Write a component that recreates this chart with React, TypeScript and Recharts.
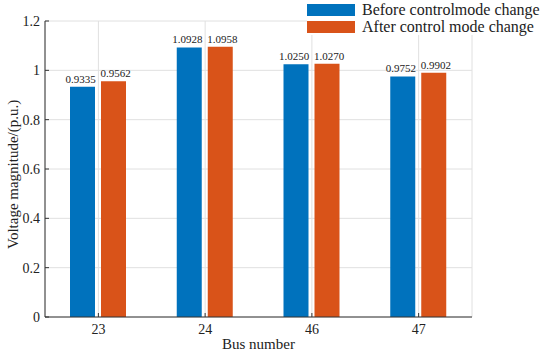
import React from 'react';
import { BarChart, Bar, XAxis, YAxis, CartesianGrid, Legend, LabelList } from 'recharts';

const categories = ['23', '24', '46', '47'];
const beforeValues = [0.9335, 1.0928, 1.025, 0.9752];
const afterValues = [0.9562, 1.0958, 1.027, 0.9902];
const yTicks = [0, 0.2, 0.4, 0.6, 0.8, 1, 1.2];

const data = categories.map((c, i) => ({ bus: c, before: beforeValues[i], after: afterValues[i] }));

const FONT = '"Liberation Serif", "DejaVu Serif", serif';
const BLUE = '#0072BD';
const ORANGE = '#D95319';

const LegendBox = () => (
  <div style={{ fontFamily: FONT, fontSize: 16, color: '#222', background: '#fff', lineHeight: '17px' }}>
    {[
      { c: BLUE, t: 'Before controlmode change' },
      { c: ORANGE, t: 'After control mode change' },
    ].map((e) => (
      <div key={e.t} style={{ display: 'flex', alignItems: 'center', height: 17 }}>
        <div style={{ width: 48, height: 12, background: e.c, marginRight: 7 }} />
        <span style={{ whiteSpace: 'nowrap', lineHeight: '17px' }}>{e.t}</span>
      </div>
    ))}
  </div>
);

const tickStyle = { fontFamily: FONT, fontSize: 14, fill: '#222' };
const labelStyle = { fontFamily: FONT, fontSize: 11, fill: '#222' };

export default function App() {
  return (
    <div style={{ position: 'absolute', left: 0, top: 0, background: '#fff', fontFamily: FONT }}>
      <BarChart
        width={550}
        height={353}
        data={data}
        margin={{ top: 21, right: 78, bottom: 0, left: 0 }}
        barGap={6}
        barSize={25}
      >
        <CartesianGrid stroke="#e0e0e0" strokeWidth={1} />
        <XAxis
          dataKey="bus"
          tick={tickStyle}
          tickSize={-4}
          tickMargin={11}
          axisLine={{ stroke: '#333' }}
          tickLine={{ stroke: '#333' }}
          height={36}
          label={{ value: 'Bus number', position: 'insideBottom', offset: 0, dy: -4, style: { fontFamily: FONT, fontSize: 15, fill: '#222' } }}
        />
        <YAxis
          domain={[0, 1.2]}
          ticks={yTicks}
          tick={tickStyle}
          tickSize={-4}
          tickMargin={9}
          axisLine={{ stroke: '#333' }}
          tickLine={{ stroke: '#333' }}
          width={45}
          label={{ value: 'Voltage magnitude/(p.u.)', angle: -90, position: 'insideLeft', dx: 8, dy: 80, style: { fontFamily: FONT, fontSize: 15, fill: '#222' } }}
        />
        <Legend
          layout="horizontal"
          verticalAlign="middle"
          align="center"
          content={<LegendBox />}
          wrapperStyle={{ position: 'absolute', top: 1, left: 307, width: 245 }}
        />
        <Bar dataKey="before" fill={BLUE} isAnimationActive={false}>
          <LabelList dataKey="before" position="top" offset={4} dx={-2} formatter={(v: number) => v.toFixed(4)} style={labelStyle} />
        </Bar>
        <Bar dataKey="after" fill={ORANGE} isAnimationActive={false}>
          <LabelList dataKey="after" position="top" offset={4} dx={2} formatter={(v: number) => v.toFixed(4)} style={labelStyle} />
        </Bar>
      </BarChart>
    </div>
  );
}
